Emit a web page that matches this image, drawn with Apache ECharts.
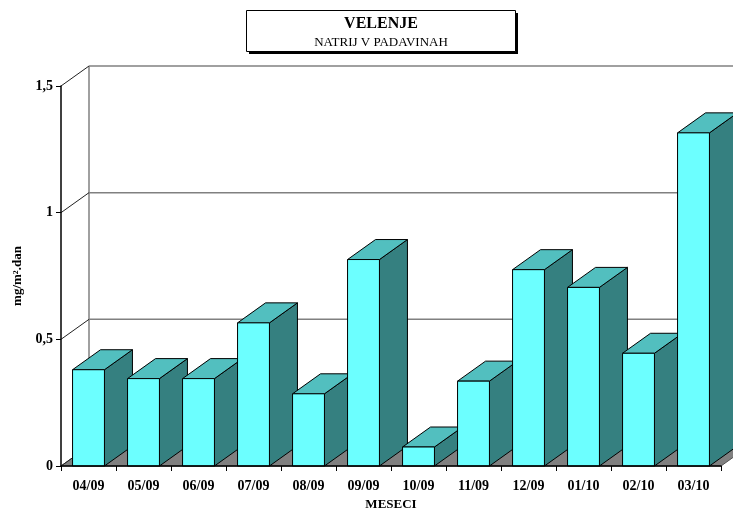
<!DOCTYPE html>
<html>
<head>
<meta charset="utf-8">
<script src="https://cdn.jsdelivr.net/npm/echarts@6/dist/echarts.min.js"></script>
<style>
  html, body { margin: 0; padding: 0; background: #fff; }
  #chart { width: 733px; height: 511px; }
</style>
</head>
<body>
<div id="chart"></div>
<script>
// Monthly sodium deposition in precipitation, Velenje
const months = ['04/09', '05/09', '06/09', '07/09', '08/09', '09/09', '10/09', '11/09', '12/09', '01/10', '02/10', '03/10'];
const sodium = [0.38, 0.345, 0.345, 0.565, 0.285, 0.815, 0.075, 0.335, 0.775, 0.705, 0.445, 1.315];
const yTicks = [0, 0.5, 1, 1.5];

// depth of the 3D box in pixels
const DX = 28, DY = -20;
const FONT = 'Liberation Serif';

const chart = echarts.init(document.getElementById('chart'));

function wallsRender(params, api) {
  const cs = params.coordSys;
  const xl = cs.x, xr = cs.x + cs.width;
  const y0 = api.coord([0, 0])[1];
  const yTop = api.coord([0, yTicks[yTicks.length - 1]])[1];
  const kids = [];
  // floor
  kids.push({ type: 'polygon', shape: { points: [[xl, y0], [xr, y0], [xr + DX, y0 + DY], [xl + DX, y0 + DY]] },
    style: { fill: '#808080', stroke: '#555', lineWidth: 1 } });
  // back wall vertical edge
  kids.push({ type: 'line', shape: { x1: xl + DX, y1: y0 + DY, x2: xl + DX, y2: yTop + DY },
    style: { stroke: '#808080', lineWidth: 1.5 } });
  yTicks.forEach(function (t) {
    const y = api.coord([0, t])[1];
    if (t > 0) {
      kids.push({ type: 'line', shape: { x1: xl + DX, y1: y + DY, x2: xr + DX, y2: y + DY },
        style: { stroke: '#808080', lineWidth: 1.5 } });
    }
    kids.push({ type: 'line', shape: { x1: xl, y1: y, x2: xl + DX, y2: y + DY },
      style: { stroke: '#222', lineWidth: 1 } });
  });
  return { type: 'group', children: kids };
}

function barRender(params, api) {
  const i = api.value(0), v = api.value(1);
  const base = api.coord([i, 0]);
  const top = api.coord([i, v]);
  const w = api.size([1, 0])[0] * 0.58;
  const x0 = base[0] - w / 2, x1 = base[0] + w / 2;
  const yb = base[1], yt = top[1];
  const edge = { stroke: '#000', lineWidth: 1 };
  return {
    type: 'group',
    children: [
      { type: 'polygon', shape: { points: [[x1, yt], [x1 + DX, yt + DY], [x1 + DX, yb + DY], [x1, yb]] },
        style: Object.assign({ fill: '#358080' }, edge) },
      { type: 'polygon', shape: { points: [[x0, yt], [x1, yt], [x1 + DX, yt + DY], [x0 + DX, yt + DY]] },
        style: Object.assign({ fill: '#52BFBF' }, edge) },
      { type: 'rect', shape: { x: x0, y: yt, width: w, height: yb - yt },
        style: Object.assign({ fill: '#6CFFFF' }, edge) }
    ]
  };
}

chart.setOption({
  animation: false,
  backgroundColor: '#fff',
  grid: { left: 61, right: 12, top: 86, bottom: 45, containLabel: false, outerBoundsMode: 'none' },
  graphic: [
    { type: 'rect', shape: { x: 249, y: 13, width: 269, height: 41 }, style: { fill: '#000' }, z: 100 },
    { type: 'rect', shape: { x: 246.5, y: 10.5, width: 269, height: 41 }, style: { fill: '#fff', stroke: '#000', lineWidth: 1 }, z: 101 },
    { type: 'text', x: 381, y: 24, z: 102,
      style: { text: 'VELENJE', font: 'bold 16px "Liberation Serif"', fill: '#000', align: 'center', verticalAlign: 'middle' } },
    { type: 'text', x: 381, y: 43, z: 102,
      style: { text: 'NATRIJ V PADAVINAH', font: '13px "Liberation Serif"', fill: '#000', align: 'center', verticalAlign: 'middle' } }
  ],
  xAxis: {
    type: 'category',
    data: months,
    z: 10,
    name: 'MESECI',
    nameLocation: 'middle',
    nameGap: 30,
    nameTextStyle: { fontFamily: FONT, fontWeight: 'bold', fontSize: 13, color: '#000' },
    axisLine: { lineStyle: { color: '#000', width: 1.5 } },
    axisTick: { show: true, length: 5, lineStyle: { color: '#000' } },
    axisLabel: { margin: 13, fontFamily: FONT, fontWeight: 'bold', fontSize: 14, color: '#000' },
    splitLine: { show: false }
  },
  yAxis: {
    type: 'value',
    min: 0, max: 1.5, interval: 0.5,
    z: 10,
    name: 'mg/m².dan',
    nameLocation: 'middle',
    nameRotate: 90,
    nameGap: 37,
    nameTextStyle: { fontFamily: FONT, fontWeight: 'bold', fontSize: 13, color: '#000' },
    axisLine: { show: true, lineStyle: { color: '#000', width: 1.5 } },
    axisTick: { show: true, length: 5, lineStyle: { color: '#000' } },
    axisLabel: { margin: 8, fontFamily: FONT, fontWeight: 'bold', fontSize: 14, color: '#000',
      formatter: function (v) { return String(v).replace('.', ','); } },
    splitLine: { show: false }
  },
  series: [
    { type: 'custom', renderItem: wallsRender, data: [[0, 0]], z: 1, silent: true, clip: false },
    { type: 'custom', renderItem: barRender, data: months.map(function (m, i) { return [i, sodium[i]]; }),
      encode: { x: 0, y: 1 }, z: 2, clip: false }
  ]
});
</script>
</body>
</html>
